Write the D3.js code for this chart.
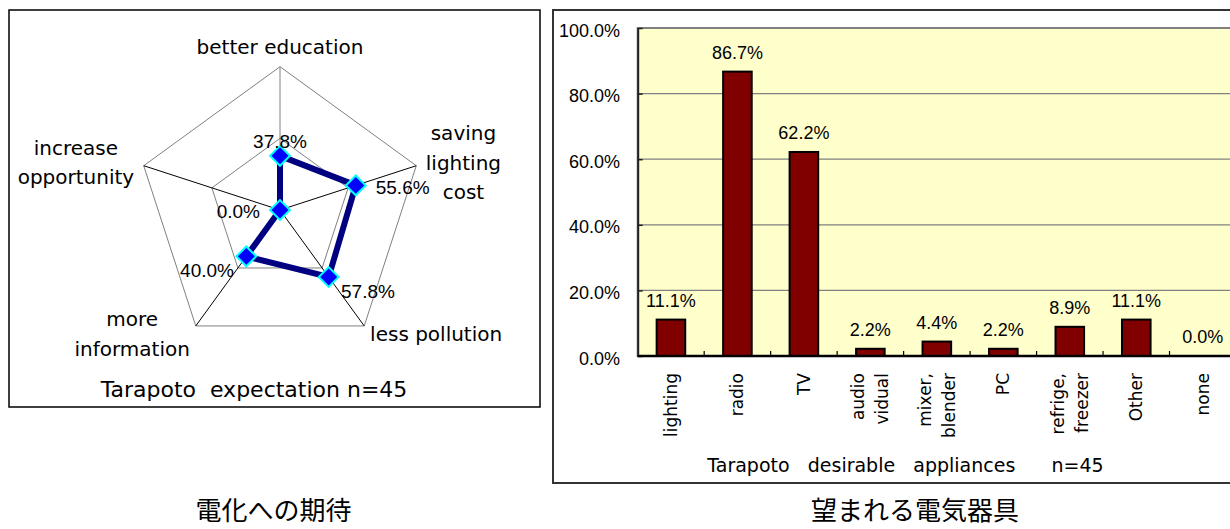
<!DOCTYPE html>
<html>
<head>
<meta charset="utf-8">
<script src="https://cdn.jsdelivr.net/npm/d3@7"></script>
<style>
  body { margin: 0; background: #fff; }
  svg { display: block; }
  text { white-space: pre; }
</style>
</head>
<body>
<svg id="chart" width="1230" height="529"></svg>
<script>
// ---- data ----
const expectationAxes = [["better education"], ["saving", "lighting", "cost"], ["less pollution"], ["more", "information"], ["increase", "opportunity"]];
const expectationValues = [37.8, 55.6, 57.8, 40.0, 0.0];
const radarRings = [50, 100];
const applianceLabels = [["lighting"], ["radio"], ["TV"], ["audio", "vidual"], ["mixer,", "blender"], ["PC"], ["refrige,", "freezer"], ["Other"], ["none"]];
const applianceValues = [11.1, 86.7, 62.2, 2.2, 4.4, 2.2, 8.9, 11.1, 0.0];
const yTicks = [0, 20, 40, 60, 80, 100];
const radarTitle = "Tarapoto  expectation n=45";
const barTitle = "Tarapoto   desirable   appliances      n=45";
const captions = ["電化への期待", "望まれる電気器具"];

const svg = d3.select("#chart");
const LATIN = "'DejaVu Sans', sans-serif";
const NUM = "'Liberation Sans', Arial, sans-serif";
const CJK = "'Noto Sans CJK JP', 'Noto Sans CJK SC', sans-serif";

// ================= radar: expectations =================
const RC = { cx: 280, cy: 210, r: 143.3 };
svg.append("rect").attr("x", 9).attr("y", 10).attr("width", 531).attr("height", 397)
  .attr("fill", "#fff").attr("stroke", "#000").attr("stroke-width", 1.5);

const rad = d3.scaleLinear().domain([0, 100]).range([0, RC.r]);
const ang = d3.scaleLinear().domain([0, expectationAxes.length]).range([0, 2 * Math.PI]);
const pt = (i, v) => [RC.cx + rad(v) * Math.sin(ang(i)), RC.cy - rad(v) * Math.cos(ang(i))];
const idx = d3.range(expectationAxes.length);

const radar = svg.append("g");
// grid pentagons
radar.selectAll("path.ring").data(radarRings).join("path")
  .attr("class", "ring")
  .attr("d", r => d3.line().curve(d3.curveLinearClosed)(idx.map(i => pt(i, r))))
  .attr("fill", "none").attr("stroke", "#808080").attr("stroke-width", 1);
// spokes (the first one is the value axis)
radar.selectAll("line.spoke").data(idx).join("line")
  .attr("class", "spoke")
  .attr("x1", RC.cx).attr("y1", RC.cy)
  .attr("x2", i => pt(i, 100)[0]).attr("y2", i => pt(i, 100)[1])
  .attr("stroke", i => i === 0 ? "#808080" : "#000").attr("stroke-width", 1);

// series line
radar.append("path")
  .attr("d", d3.line().curve(d3.curveLinearClosed)(expectationValues.map((v, i) => pt(i, v))))
  .attr("fill", "none").attr("stroke", "#000080").attr("stroke-width", 6).attr("stroke-linejoin", "miter");

// diamond markers
radar.selectAll("rect.mk").data(expectationValues).join("rect")
  .attr("class", "mk")
  .attr("x", -7).attr("y", -7).attr("width", 14).attr("height", 14)
  .attr("transform", (v, i) => `translate(${pt(i, v)[0]},${pt(i, v)[1]}) rotate(45)`)
  .attr("fill", "#0000FF").attr("stroke", "#00FFFF").attr("stroke-width", 2);

// value labels, pushed outward along each axis
radar.selectAll("text.val").data(expectationValues).join("text")
  .attr("class", "val")
  .each(function (v, i) {
    const [px, py] = pt(i, v);
    const s = Math.sin(ang(i)), c = Math.cos(ang(i));
    const t = d3.select(this);
    if (Math.abs(s) < 0.3) {
      t.attr("x", px).attr("y", py - 15 * c).attr("text-anchor", "middle");
    } else {
      t.attr("x", px + 21 * s).attr("y", py - 11 * c + 5)
        .attr("text-anchor", s > 0 ? "start" : "end");
    }
  })
  .attr("dy", "0.36em")
  .attr("font-family", NUM).attr("font-size", 19).attr("fill", "#000")
  .text(v => v.toFixed(1) + "%");

// axis category labels
const LH = 29.5;
expectationAxes.forEach((lines, i) => {
  const s = Math.sin(ang(i)), c = Math.cos(ang(i));
  const [vx, vy] = pt(i, 100);
  const ax = vx + 10 * s, ay = vy - 10 * c;
  const g = radar.append("g");
  const texts = lines.map(l => g.append("text")
    .attr("font-family", LATIN).attr("font-size", 20).attr("fill", "#000")
    .attr("text-anchor", "middle").text(l));
  const w = d3.max(texts, t => t.node().getComputedTextLength());
  const n = lines.length;
  let cxl, firstBase;
  if (Math.abs(s) < 0.3) {
    cxl = ax;
    firstBase = ay - 3 - (n - 1) * LH;
  } else {
    cxl = ax + (s > 0 ? w / 2 : -w / 2);
    firstBase = ay - (n - 1) * LH / 2 + 7;
  }
  texts.forEach((t, j) => t.attr("x", cxl).attr("y", firstBase + j * LH));
});

svg.append("text").attr("x", 254).attr("y", 397).attr("text-anchor", "middle")
  .attr("font-family", LATIN).attr("font-size", 22).attr("fill", "#000").text(radarTitle);

// ================= bar chart: desirable appliances =================
svg.append("rect").attr("x", 553).attr("y", 10).attr("width", 700).attr("height", 473)
  .attr("fill", "#fff").attr("stroke", "#333").attr("stroke-width", 2);

const B = { left: 637.7, right: 1236, top: 28, bottom: 356 };
const x = d3.scaleBand().domain(d3.range(applianceValues.length)).range([B.left, B.right])
  .paddingInner(0.57).paddingOuter(0.285);
const y = d3.scaleLinear().domain([0, 100]).range([B.bottom, B.top]);

const bars = svg.append("g");
bars.append("rect").attr("x", B.left).attr("y", B.top).attr("width", B.right - B.left).attr("height", B.bottom - B.top)
  .attr("fill", "#FFFFCC").attr("stroke", "#808080").attr("stroke-width", 2);

bars.selectAll("line.grid").data(yTicks.filter(t => t > 0)).join("line")
  .attr("class", "grid")
  .attr("x1", B.left).attr("x2", B.right).attr("y1", d => y(d)).attr("y2", d => y(d))
  .attr("stroke", "#808080").attr("stroke-width", 1.2);

const yAxis = bars.append("g").attr("transform", `translate(${B.left},0)`)
  .call(d3.axisLeft(y).tickValues(yTicks).tickSize(-5).tickSizeOuter(0).tickPadding(17.7)
    .tickFormat(d => d.toFixed(1) + "%"));
yAxis.select(".domain").attr("stroke", "#222").attr("stroke-width", 2);
yAxis.selectAll(".tick line").attr("stroke", "#222").attr("stroke-width", 1.5);
yAxis.selectAll(".tick text").attr("font-family", NUM).attr("font-size", 18).attr("fill", "#000").attr("dy", "0.45em");

// category boundary ticks
bars.selectAll("line.xt").data(d3.range(1, applianceValues.length)).join("line")
  .attr("class", "xt")
  .attr("x1", i => B.left + i * x.step()).attr("x2", i => B.left + i * x.step())
  .attr("y1", B.bottom).attr("y2", B.bottom - 5)
  .attr("stroke", "#000").attr("stroke-width", 1.2);

bars.selectAll("rect.bar").data(applianceValues.map((v, i) => ({ v, i })).filter(d => d.v > 0)).join("rect")
  .attr("class", "bar")
  .attr("x", d => x(d.i)).attr("y", d => y(d.v))
  .attr("width", x.bandwidth()).attr("height", d => y(0) - y(d.v))
  .attr("fill", "#800000").attr("stroke", "#000").attr("stroke-width", 2);

// baseline
bars.append("line").attr("x1", B.left).attr("x2", B.right).attr("y1", B.bottom).attr("y2", B.bottom)
  .attr("stroke", "#000").attr("stroke-width", 2.5);

bars.selectAll("text.bv").data(applianceValues).join("text")
  .attr("class", "bv")
  .attr("x", (v, i) => x(i) + x.bandwidth() / 2).attr("y", v => y(v) - 13)
  .attr("text-anchor", "middle").attr("font-family", NUM).attr("font-size", 18).attr("fill", "#000")
  .text(v => v.toFixed(1) + "%");

// rotated category labels
applianceLabels.forEach((lines, i) => {
  const cx = x(i) + x.bandwidth() / 2;
  lines.forEach((l, j) => {
    const off = (j - (lines.length - 1) / 2) * 24;
    bars.append("text")
      .attr("transform", `translate(${cx + off},373) rotate(-90)`)
      .attr("text-anchor", "end").attr("dominant-baseline", "central")
      .attr("font-family", LATIN).attr("font-size", 17).attr("fill", "#000")
      .text(l);
  });
});

svg.append("text").attr("x", 905.5).attr("y", 472).attr("text-anchor", "middle")
  .attr("font-family", LATIN).attr("font-size", 19).attr("fill", "#000").text(barTitle);

// ================= captions =================
svg.selectAll("text.cap").data(captions).join("text")
  .attr("class", "cap")
  .attr("x", (d, i) => i === 0 ? 273.4 : 915).attr("y", 520)
  .attr("text-anchor", "middle").attr("font-family", CJK).attr("font-size", 26).attr("fill", "#000")
  .text(d => d);
</script>
</body>
</html>
